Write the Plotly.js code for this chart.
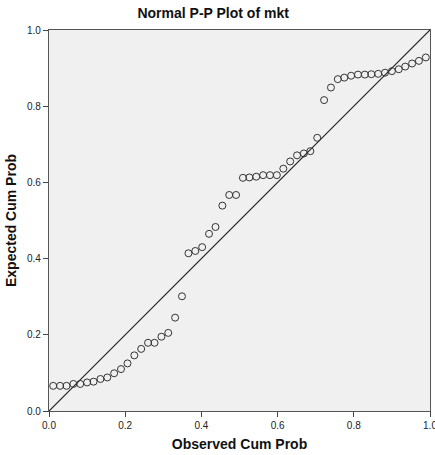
<!DOCTYPE html>
<html>
<head>
<meta charset="utf-8">
<script src="https://cdn.plot.ly/plotly-3.0.1.min.js"></script>
<style>html,body{margin:0;padding:0;background:#fff;}#chart{width:435px;height:455px;}</style>
</head>
<body>
<div id="chart"></div>
<script>
// Observed cumulative probability (x) for each case
const observedCumProb = [
  0.011, 0.029, 0.046, 0.064, 0.082, 0.100, 0.117, 0.135, 0.153, 0.171,
  0.189, 0.206, 0.224, 0.242, 0.260, 0.277, 0.295, 0.313, 0.331, 0.349,
  0.366, 0.384, 0.402, 0.420, 0.437, 0.455, 0.473, 0.491, 0.509, 0.526,
  0.544, 0.562, 0.580, 0.598, 0.615, 0.633, 0.651, 0.669, 0.686, 0.704,
  0.722, 0.740, 0.758, 0.775, 0.793, 0.811, 0.829, 0.846, 0.864, 0.882,
  0.900, 0.918, 0.935, 0.953, 0.971, 0.989
];
// Expected cumulative probability (y)
const expectedCumProb = [
  0.066, 0.066, 0.066, 0.071, 0.071, 0.075, 0.077, 0.084, 0.088, 0.099,
  0.110, 0.125, 0.146, 0.163, 0.179, 0.179, 0.195, 0.205, 0.245, 0.301,
  0.414, 0.420, 0.430, 0.465, 0.483, 0.539, 0.567, 0.567, 0.612, 0.613,
  0.615, 0.619, 0.619, 0.619, 0.636, 0.655, 0.671, 0.676, 0.682, 0.717,
  0.816, 0.849, 0.871, 0.875, 0.880, 0.883, 0.883, 0.884, 0.885, 0.888,
  0.892, 0.897, 0.904, 0.912, 0.919, 0.928
];
// Reference diagonal
const diagX = [0, 1];
const diagY = [0, 1];
const tickVals = [0, 0.2, 0.4, 0.6, 0.8, 1.0];
const tickText = ["0.0", "0.2", "0.4", "0.6", "0.8", "1.0"];

const font = "Liberation Sans, Arial, sans-serif";

const traces = [
  {
    x: diagX, y: diagY, type: "scatter", mode: "lines",
    line: {color: "#222", width: 1.2}, hoverinfo: "skip", showlegend: false
  },
  {
    x: observedCumProb, y: expectedCumProb, type: "scatter", mode: "markers",
    marker: {symbol: "circle-open", size: 7, color: "#333", line: {width: 1, color: "#333"}},
    showlegend: false, cliponaxis: false
  }
];

const axisCommon = {
  range: [0, 1], autorange: false, fixedrange: true,
  tickmode: "array", tickvals: tickVals, ticktext: tickText,
  ticks: "outside", ticklen: 5, tickwidth: 1, tickcolor: "#444",
  showline: true, linecolor: "#555", linewidth: 1.2, mirror: true,
  showgrid: false, zeroline: false, ticklabeloverflow: "allow",
  tickfont: {family: font, size: 10, color: "#222"}
};

const layout = {
  width: 435, height: 455,
  margin: {l: 49, r: 5, t: 30, b: 44, pad: 0},
  paper_bgcolor: "#ffffff",
  plot_bgcolor: "#f0f0f0",
  title: {
    text: "<b>Normal P-P Plot of mkt</b>",
    font: {family: font, size: 14, color: "#111"},
    xref: "container", x: 0.49, xanchor: "center",
    yref: "container", y: 1 - 13 / 455, yanchor: "middle"
  },
  xaxis: Object.assign({}, axisCommon, {
    title: {text: "<b>Observed Cum Prob</b>", font: {family: font, size: 14, color: "#111"}, standoff: 9}
  }),
  yaxis: Object.assign({}, axisCommon, {
    title: {text: "<b>Expected Cum Prob</b>", font: {family: font, size: 14, color: "#111"}, standoff: 7}
  })
};

Plotly.newPlot("chart", traces, layout, {staticPlot: true, displayModeBar: false});
</script>
</body>
</html>
